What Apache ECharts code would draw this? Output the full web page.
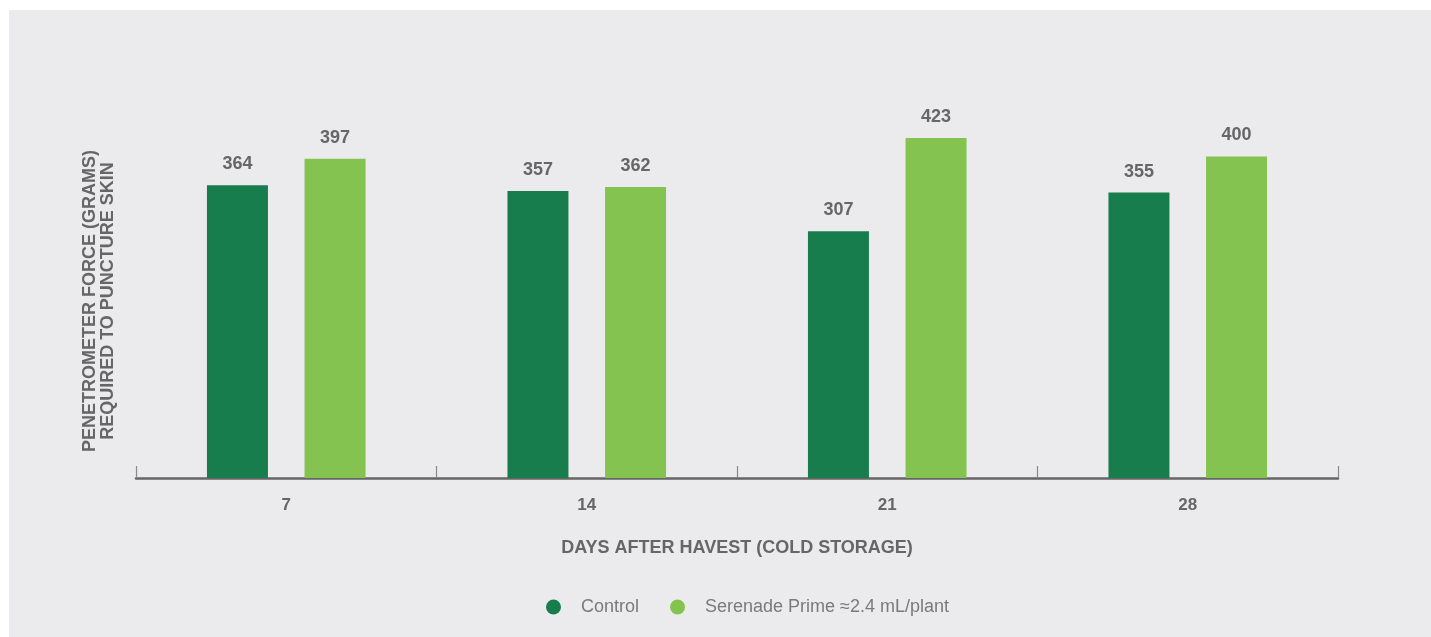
<!DOCTYPE html>
<html>
<head>
<meta charset="utf-8">
<script src="https://cdn.jsdelivr.net/npm/echarts@6/dist/echarts.min.js"></script>
<style>
  html, body { margin: 0; padding: 0; background: #ffffff; }
  #chart { position: absolute; left: 9px; top: 10px; width: 1422px; height: 627px; }
</style>
</head>
<body>
<div id="chart"></div>
<script>
// data
var days = ['7', '14', '21', '28'];
var controlValues = [364, 357, 307, 355];
var serenadeValues = [397, 362, 423, 400];
var seriesNames = ['Control', 'Serenade Prime \u22482.4 mL/plant'];

var chart = echarts.init(document.getElementById('chart'));

var labelStyle = {
  show: true,
  position: 'top',
  distance: 12,
  color: '#666666',
  fontFamily: 'Liberation Sans, Arial, sans-serif',
  fontWeight: 'bold',
  fontSize: 18
};

var option = {
  backgroundColor: '#ebebed',
  animation: false,
  grid: { left: 127, right: 93, top: 66, bottom: 159 },
  legend: {
    top: 583,
    left: 532,
    icon: 'circle',
    itemWidth: 15,
    itemHeight: 15,
    itemGap: 31,
    textStyle: {
      color: '#7a7a7a',
      fontFamily: 'Liberation Sans, Arial, sans-serif',
      fontSize: 18,
      padding: [0, 0, 0, 15]
    },
    data: seriesNames
  },
  xAxis: {
    type: 'category',
    data: days,
    name: 'DAYS AFTER HAVEST (COLD STORAGE)',
    nameLocation: 'middle',
    nameGap: 61,
    nameTextStyle: {
      color: '#666666',
      fontFamily: 'Liberation Sans, Arial, sans-serif',
      fontWeight: 'bold',
      fontSize: 18
    },
    axisLine: { lineStyle: { color: '#666666', width: 2.5 } },
    axisTick: { show: true, inside: true, length: 12, lineStyle: { color: '#888888', width: 1.2 } },
    axisLabel: {
      margin: 19,
      color: '#666666',
      fontFamily: 'Liberation Sans, Arial, sans-serif',
      fontWeight: 'bold',
      fontSize: 17
    }
  },
  yAxis: {
    type: 'value',
    min: 0,
    max: 500,
    show: false
  },
  graphic: [{
    type: 'text',
    x: 90,
    y: 291,
    rotation: Math.PI / 2,
    style: {
      text: 'PENETROMETER FORCE (GRAMS)\nREQUIRED TO PUNCTURE SKIN',
      fill: '#666666',
      font: 'bold 18px "Liberation Sans", Arial, sans-serif',
      lineHeight: 18,
      align: 'center',
      verticalAlign: 'middle'
    }
  }],
  series: [
    {
      name: seriesNames[0],
      type: 'bar',
      data: controlValues,
      barWidth: 61,
      barGap: '60%',
      itemStyle: { color: '#187d4c' },
      label: labelStyle
    },
    {
      name: seriesNames[1],
      type: 'bar',
      data: serenadeValues,
      barWidth: 61,
      itemStyle: { color: '#84c34f' },
      label: labelStyle
    }
  ]
};

chart.setOption(option);
</script>
</body>
</html>
